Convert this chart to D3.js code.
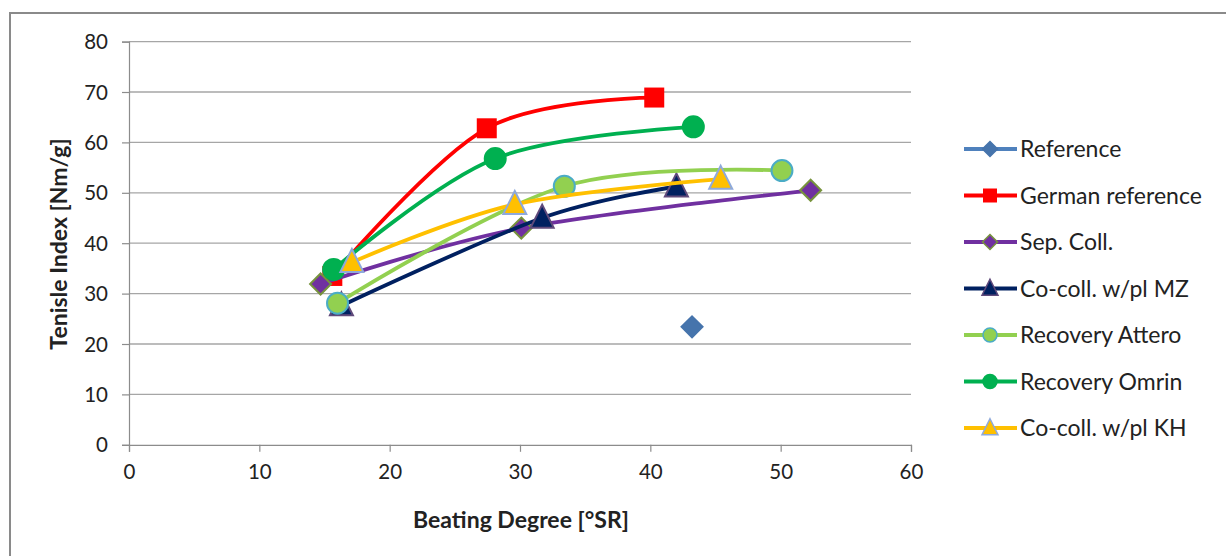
<!DOCTYPE html>
<html><head><meta charset="utf-8">
<script src="https://cdn.jsdelivr.net/npm/d3@7"></script>
<style>body{margin:0;background:#fff;}svg{display:block;font-family:Lato,"Liberation Sans",sans-serif;}</style>
</head><body><svg id="c" width="1226" height="556"></svg>
<script>
const seriesNames = ["Reference","German reference","Sep. Coll.","Co-coll. w/pl MZ","Recovery Attero","Recovery Omrin","Co-coll. w/pl KH"];
const refX = [43.2], refY = [23.4];
const gerX = [15.6, 27.45, 40.3], gerY = [33.5, 62.8, 68.9];
const sepX = [14.7, 30.1, 52.3], sepY = [31.9, 43.0, 50.5];
const mzX = [16.3, 31.7, 42.0], mzY = [27.6, 45.0, 51.2];
const attX = [16.0, 33.4, 50.1], attY = [28.1, 51.3, 54.4];
const omrX = [15.7, 28.1, 43.3], omrY = [34.8, 56.8, 63.1];
const khX = [17.1, 29.6, 45.4], khY = [36.2, 47.7, 52.7];
const xTicks = [0,10,20,30,40,50,60];
const yTicks = [0,10,20,30,40,50,60,70,80];

const styles = [
  {line:"#4F81BD", fill:"#4674AC", stroke:"#4674AC", shape:"diamond", hasLine:false},
  {line:"#FF0000", fill:"#FF0000", stroke:"#FF0000", shape:"square", hasLine:true},
  {line:"#7030A0", fill:"#7030A0", stroke:"#77933C", shape:"diamond", hasLine:true},
  {line:"#002060", fill:"#002060", stroke:"#604A7B", shape:"triangle", hasLine:true},
  {line:"#92D050", fill:"#92D050", stroke:"#4BACC6", shape:"circle", hasLine:true},
  {line:"#00B050", fill:"#00B050", stroke:"#00B050", shape:"circle", hasLine:true},
  {line:"#FFC000", fill:"#FFC000", stroke:"#8EA9DB", shape:"triangle", hasLine:true}
];
const data = [[refX,refY],[gerX,gerY],[sepX,sepY],[mzX,mzY],[attX,attY],[omrX,omrY],[khX,khY]]
  .map(([xs,ys]) => xs.map((x,i)=>({x, y: ys[i]})));

const svg = d3.select("#c");
svg.append("rect").attr("x",10).attr("y",13).attr("width",1240).attr("height",560)
  .attr("fill","#fff").attr("stroke","#8a8a8a").attr("stroke-width",2);

const x = d3.scaleLinear().domain([0,60]).range([129,911]);
const y = d3.scaleLinear().domain([0,80]).range([444.8,41.6]);

svg.append("g").selectAll("line").data(yTicks.filter(d=>d>0)).join("line")
  .attr("x1",x(0)).attr("x2",x(60)).attr("y1",d=>y(d)).attr("y2",d=>y(d))
  .attr("stroke","#a6a6a6").attr("stroke-width",1.3);

const gx = svg.append("g").attr("transform",`translate(0,${y(0)})`)
  .call(d3.axisBottom(x).tickValues(xTicks).tickSize(7).tickPadding(13));
const gy = svg.append("g").attr("transform",`translate(${x(0)},0)`)
  .call(d3.axisLeft(y).tickValues(yTicks).tickSize(7).tickPadding(14));
[gx,gy].forEach(g=>{
  g.select(".domain").attr("stroke","#8c8c8c").attr("stroke-width",1.2);
  g.selectAll(".tick line").attr("stroke","#8c8c8c").attr("stroke-width",1.2);
  g.selectAll("text").attr("font-size",20.5).attr("fill","#222").attr("font-family","Lato, sans-serif");
});
gy.selectAll(".tick text").attr("dy","0.35em");

svg.append("text").attr("x",521).attr("y",528).attr("text-anchor","middle")
  .attr("font-weight","bold").attr("font-size",23).attr("fill","#222").text("Beating Degree [°SR]");
svg.append("text").attr("transform","translate(67,244) rotate(-90)").attr("text-anchor","middle")
  .attr("font-weight","bold").attr("font-size",23).attr("fill","#222").text("Tenisle Index [Nm/g]");

function symbolPath(shape, s){
  if(shape==="square") return `M${-s/2},${-s/2}h${s}v${s}h${-s}Z`;
  if(shape==="diamond") return `M0,${-s/2}L${s/2},0L0,${s/2}L${-s/2},0Z`;
  if(shape==="triangle") return `M0,${-s*0.58}L${s/2},${s*0.42}L${-s/2},${s*0.42}Z`;
  const p=d3.path();p.arc(0,0,s/2,0,2*Math.PI);return p.toString();
}
const markerSize = {square:20, diamond:21, triangle:23, circle:21};
const strokeW = {square:0, diamond:2, triangle:2, circle:2};

const lineGen = d3.line().x(d=>x(d.x)).y(d=>y(d.y)).curve(d3.curveCardinal.tension(0));

data.forEach((pts,i)=>{
  const st = styles[i];
  const g = svg.append("g");
  if(st.hasLine){
    g.append("path").datum(pts).attr("d",lineGen).attr("fill","none")
      .attr("stroke",st.line).attr("stroke-width",3.8).attr("stroke-linecap","round");
  }
  g.selectAll("path.m").data(pts).join("path").attr("class","m")
    .attr("transform",d=>`translate(${x(d.x)},${y(d.y)})`)
    .attr("d",symbolPath(st.shape, markerSize[st.shape]))
    .attr("fill",st.fill).attr("stroke",st.stroke).attr("stroke-width",strokeW[st.shape]);
});

const legY = d3.scalePoint().domain(seriesNames).range([149,428]);
const leg = svg.append("g");
seriesNames.forEach((name,i)=>{
  const st = styles[i];
  const cy = legY(name);
  leg.append("line").attr("x1",964).attr("x2",1017).attr("y1",cy).attr("y2",cy)
    .attr("stroke",st.line).attr("stroke-width",3.8);
  const ms = {square:14, diamond:15, triangle:16, circle:14}[st.shape];
  leg.append("path").attr("transform",`translate(990,${cy})`).attr("d",symbolPath(st.shape,ms))
    .attr("fill",st.fill).attr("stroke",st.stroke).attr("stroke-width",st.shape==="square"?0:1.5);
  leg.append("text").attr("x",1020).attr("y",cy).attr("dy","0.35em").attr("font-size",23)
    .attr("fill","#222").text(name);
});
</script></body></html>
